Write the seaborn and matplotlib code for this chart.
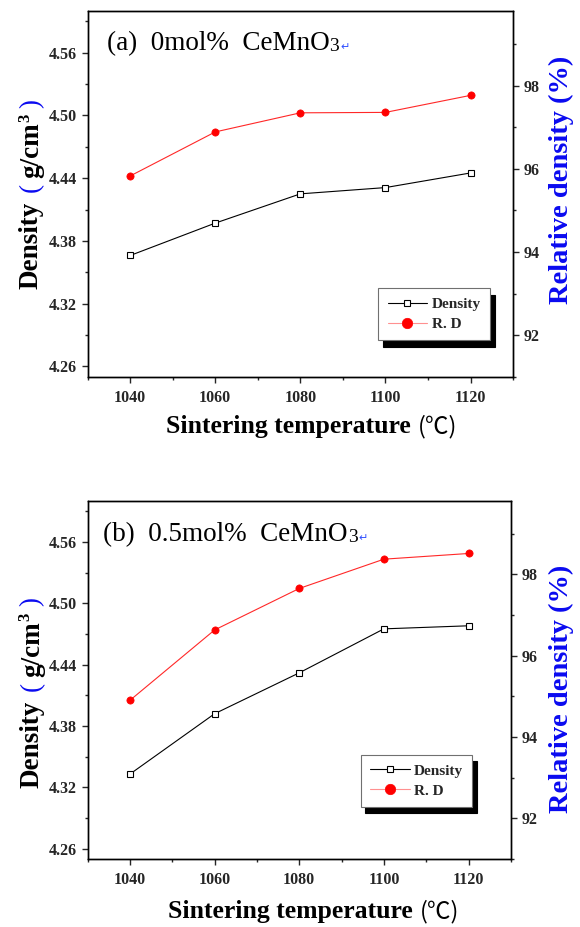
import matplotlib
matplotlib.use("Agg")
import matplotlib.pyplot as plt
import seaborn as sns
from matplotlib.ticker import MultipleLocator, FormatStrFormatter

# ---------------- data ----------------
temps = [1040, 1060, 1080, 1100, 1120]
density_a = [4.366, 4.397, 4.425, 4.431, 4.445]
rd_a = [95.83, 96.89, 97.35, 97.36, 97.77]
density_b = [4.333, 4.392, 4.432, 4.475, 4.478]
rd_b = [94.90, 96.63, 97.65, 98.37, 98.51]
panel_titles = ["(a)  0mol%  CeMnO", "(b)  0.5mol%  CeMnO"]
legend_labels = ["Density", "R. D"]

sns.set_style("ticks")
plt.rcParams.update({
    "font.family": ["Liberation Serif", "DejaVu Serif"],
    "font.weight": "bold",
    "axes.linewidth": 1.0,
    "axes.edgecolor": "black",
})

W, H = 580, 927
fig = plt.figure(figsize=(W / 100, H / 100), dpi=100)
renderer = fig.canvas.get_renderer()
BLUE = "#0a0af0"


def fx(px):
    return px / W


def fy(py_img):
    return 1 - py_img / H


def seq_horizontal(x_px, base_img_y, pieces):
    """Place text pieces one after another along a baseline (image px)."""
    x_disp = x_px
    for s, kw, gap, dy in pieces:
        x_disp += gap
        t = fig.text(fx(x_disp), fy(base_img_y + dy), s, ha="left",
                     va="baseline", **kw)
        bb = t.get_window_extent(renderer)
        x_disp = bb.x1


def seq_vertical(base_x_px, start_img_y, pieces):
    """Place rotated (90 deg) text pieces upward along a vertical baseline."""
    y_disp = H - start_img_y
    for s, kw, gap, dx in pieces:
        y_disp += gap
        t = fig.text(fx(base_x_px + dx), y_disp / H, s, rotation=90,
                     rotation_mode="anchor", ha="left", va="baseline", **kw)
        bb = t.get_window_extent(renderer)
        y_disp = bb.y1


def panel(rect, dens, rd, title, title_pos, leg_anchor):
    ax = fig.add_axes(rect)
    ax2 = ax.twinx()
    sns.lineplot(x=temps, y=dens, ax=ax, color="black", linewidth=0.8,
                 marker="s", markersize=4.5, markerfacecolor="white",
                 markeredgecolor="black", markeredgewidth=0.8,
                 label=legend_labels[0], legend=False)
    sns.lineplot(x=temps, y=rd, ax=ax2, color="#ff2828", linewidth=0.8,
                 marker="o", markersize=5.2, markerfacecolor="#ff0000",
                 markeredgecolor="#ff0000", markeredgewidth=0.5,
                 label=legend_labels[1], legend=False)
    ax.set_xlim(1030, 1130)
    ax.set_ylim(4.25, 4.60)
    ax2.set_ylim(91, 99.8)
    ax.xaxis.set_major_locator(MultipleLocator(20))
    ax.xaxis.set_minor_locator(MultipleLocator(10))
    ax.yaxis.set_major_locator(MultipleLocator(0.06))
    ax.yaxis.set_minor_locator(MultipleLocator(0.03))
    ax.yaxis.set_major_formatter(FormatStrFormatter("%.2f"))
    ax2.yaxis.set_major_locator(MultipleLocator(2))
    ax2.yaxis.set_minor_locator(MultipleLocator(1))
    for a in (ax, ax2):
        a.tick_params(which="major", length=4.5, width=1.0, direction="out",
                      labelsize=11.5, pad=3)
        a.tick_params(which="minor", length=2.5, width=1.0, direction="out")
        a.set_xlabel("")
        a.set_ylabel("")
        for sp in a.spines.values():
            sp.set_linewidth(1.0)
    ax.tick_params(axis="x", pad=5)

    # panel title inside the axes
    x0 = rect[0] * W + title_pos[0] * rect[2] * W
    base = (1 - rect[1] - title_pos[1] * rect[3]) * H
    seq_horizontal(x0, base, [
        (title, dict(fontsize=19.5, fontweight="normal", color="black"), 0, 0),
        ("3", dict(fontsize=14, fontweight="normal", color="black"), 0, 1),
        ("↵", dict(fontsize=8, fontweight="normal", color="#3050ff",
                   family=["DejaVu Sans"]), 1, 0),
    ])

    h1, l1 = ax.get_legend_handles_labels()
    h2, l2 = ax2.get_legend_handles_labels()
    leg = ax2.legend(h1 + h2, l1 + l2, loc="lower right",
                     bbox_to_anchor=leg_anchor, frameon=True, fancybox=False,
                     shadow={"facecolor": "black", "edgecolor": "black",
                             "alpha": 1, "ox": 3.5, "oy": -4.7},
                     edgecolor="#707070", framealpha=1, fontsize=11,
                     handlelength=2.6, borderpad=0.6, labelspacing=0.4,
                     handletextpad=0.3, borderaxespad=0)
    leg.get_frame().set_linewidth(0.8)
    lines = leg.get_lines()
    lines[0].set_markersize(5)
    lines[1].set_color("#ff9090")
    lines[1].set_markersize(7.5)
    return ax, ax2


rect_a = [87.6 / W, 1 - 376.7 / H, (513.1 - 87.6) / W, (376.7 - 11) / H]
rect_b = [87.6 / W, 1 - 859 / H, (510.9 - 87.6) / W, (859 - 501) / H]

panel(rect_a, density_a, rd_a, panel_titles[0], (0.045, 0.893), (0.946, 0.100))
panel(rect_b, density_b, rd_b, panel_titles[1], (0.037, 0.889), (0.909, 0.146))


def ylabels(base_x, start_y, right_x, right_center_y):
    bold = dict(fontsize=19.5, fontweight="bold", color="black")
    par = dict(fontsize=19.5, fontweight="normal", color=BLUE)
    seq_vertical(base_x, start_y, [
        ("Density", bold, 0, 0),
        ("(", par, 10, 0),
        ("g/cm", bold, 5, 0),
        ("3", dict(fontsize=12, fontweight="bold", color="black"), 0, -9),
        (")", par, 6, 0),
    ])
    fig.text(fx(right_x), fy(right_center_y), "Relative density (%)",
             rotation=90, rotation_mode="anchor", ha="center", va="baseline",
             fontsize=20.5, fontweight="bold", color=BLUE)


ylabels(38.0, 289, 567.5, 180)
ylabels(38.8, 788, 567.5, 689)

xl_pieces = [
    ("Sintering temperature", dict(fontsize=18.5, fontweight="bold",
                                   color="black"), 0, 0),
    ("(℃)", dict(fontsize=17, fontweight="normal", color="black",
                 family=["Noto Sans CJK JP", "DejaVu Sans"]), 7, 0),
]
seq_horizontal(166, 433, xl_pieces)
seq_horizontal(168, 918, xl_pieces)

fig.savefig("out.png", dpi=100)
